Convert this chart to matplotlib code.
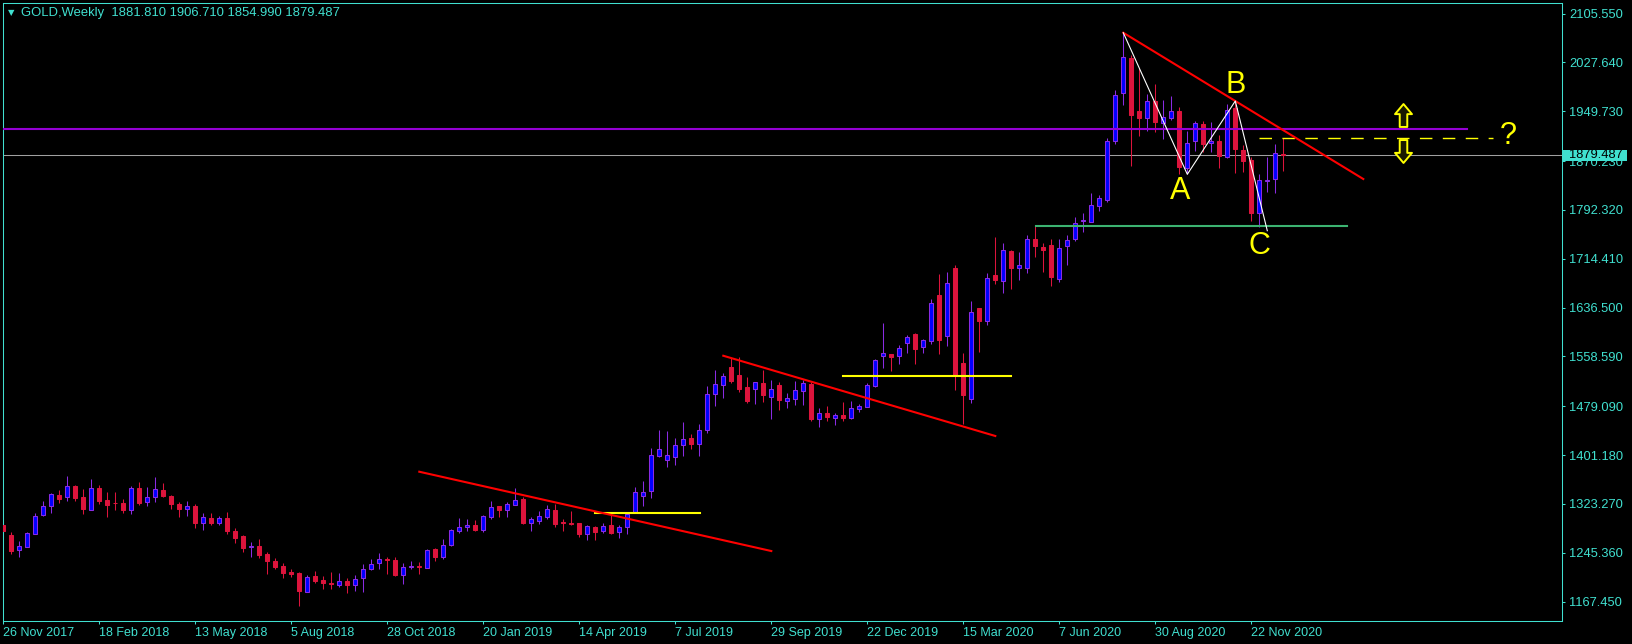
import matplotlib
matplotlib.use("Agg")
import matplotlib.pyplot as plt
from matplotlib.patches import Rectangle
from matplotlib.path import Path
from matplotlib.transforms import blended_transform_factory

plt.rcParams["font.family"] = ["Liberation Sans", "DejaVu Sans"]

TURQ = "#40E0D0"
BULL_FILL = "#0000FF"
BULL_EDGE = "#8A2BE2"
BEAR = "#DC143C"

# weekly GOLD candles, index 0 = week of 26 Nov 2017
opens = [
    1289.7, 1273.8, 1249.4, 1255.1, 1275.8, 1305.7, 1320.5, 1337.1, 1334.9, 1351.9,
    1334.4, 1314.1, 1348.3, 1329.1, 1325.3, 1324.8, 1314.1, 1348.3, 1326.9, 1334.9,
    1345.1, 1336.0, 1323.2, 1315.7, 1320.0, 1292.4, 1300.4, 1293.4, 1300.4, 1280.2,
    1272.2, 1254.2, 1255.8, 1243.5, 1231.8, 1224.3, 1214.8, 1213.2, 1183.4, 1208.4,
    1202.0, 1196.8, 1194.5, 1200.0, 1193.6, 1204.7, 1219.0, 1228.6, 1236.0, 1233.4,
    1210.5, 1222.2, 1224.3, 1221.6, 1251.4, 1239.2, 1257.8, 1280.6, 1286.0, 1289.2,
    1282.2, 1303.0, 1319.6, 1314.1, 1322.1, 1331.2, 1293.4, 1296.6, 1303.0, 1313.7,
    1294.5, 1292.9, 1292.9, 1275.8, 1286.0, 1280.6, 1289.7, 1278.1, 1286.0, 1310.0,
    1336.5, 1343.5, 1400.3, 1393.9, 1398.7, 1416.8, 1428.5, 1419.7, 1440.5, 1497.9,
    1513.8, 1541.7, 1529.0, 1509.8, 1507.1, 1516.2, 1494.4, 1513.0, 1488.0, 1491.2,
    1503.9, 1514.6, 1459.3, 1468.4, 1460.9, 1465.2, 1460.7, 1475.2, 1478.4, 1511.4,
    1559.8, 1562.5, 1558.8, 1579.5, 1594.4, 1573.2, 1582.7, 1656.6, 1591.6, 1699.6,
    1548.1, 1490.2, 1635.4, 1615.6, 1688.0, 1679.4, 1726.3, 1700.1, 1700.1, 1745.4,
    1733.1, 1736.0, 1682.5, 1735.2, 1746.7, 1774.6, 1773.5, 1799.0, 1808.6, 1901.7,
    1978.3, 2035.0, 1950.0, 1939.3, 1966.0, 1930.4, 1939.3, 1950.0, 1859.6, 1902.7,
    1929.3, 1899.5, 1902.2, 1877.1, 1955.3, 1887.8, 1871.9, 1787.0, 1838.4, 1841.1,
    1881.81,
]
highs = [
    1300.4, 1278.1, 1264.2, 1278.6, 1308.9, 1328.0, 1340.3, 1345.6, 1367.9, 1353.5,
    1347.1, 1362.6, 1353.5, 1341.9, 1342.4, 1330.7, 1351.9, 1358.3, 1350.3, 1366.3,
    1356.7, 1337.6, 1326.4, 1328.0, 1323.2, 1308.9, 1308.9, 1304.1, 1310.5, 1284.9,
    1273.8, 1262.6, 1267.4, 1246.7, 1237.1, 1229.6, 1219.5, 1214.3, 1210.0, 1216.3,
    1207.9, 1214.8, 1212.8, 1205.2, 1210.0, 1227.0, 1235.5, 1244.6, 1239.2, 1238.7,
    1229.6, 1232.3, 1230.7, 1251.9, 1253.5, 1267.4, 1283.3, 1300.9, 1299.3, 1297.7,
    1306.2, 1328.0, 1320.5, 1325.9, 1348.3, 1333.9, 1302.5, 1312.5, 1321.1, 1323.2,
    1299.3, 1312.5, 1293.5, 1289.2, 1287.7, 1292.9, 1307.3, 1289.7, 1309.3, 1350.3,
    1359.4, 1412.5, 1441.3, 1439.7, 1428.5, 1454.0, 1434.9, 1450.8, 1511.4, 1536.6,
    1532.2, 1556.1, 1557.2, 1525.8, 1518.3, 1537.0, 1521.0, 1518.3, 1500.3, 1519.4,
    1521.0, 1518.3, 1475.9, 1479.5, 1467.9, 1485.9, 1487.5, 1482.7, 1516.7, 1555.0,
    1612.4, 1563.0, 1576.3, 1592.3, 1595.5, 1586.9, 1650.2, 1690.1, 1693.2, 1704.4,
    1563.6, 1647.0, 1636.0, 1691.2, 1749.1, 1739.5, 1727.8, 1725.1, 1752.3, 1766.1,
    1739.5, 1745.9, 1745.9, 1751.8, 1781.4, 1787.8, 1819.2, 1816.1, 1907.5, 1983.5,
    2074.9, 2039.8, 2018.1, 1977.2, 1992.6, 1967.6, 1974.0, 1955.9, 1918.1, 1933.6,
    1933.6, 1932.5, 1911.3, 1961.2, 1964.9, 1895.8, 1876.2, 1849.1, 1876.2, 1897.4,
    1906.71,
]
lows = [
    1271.0, 1243.9, 1238.2, 1254.2, 1275.0, 1304.6, 1309.3, 1325.3, 1328.5, 1328.5,
    1307.7, 1313.5, 1322.7, 1303.0, 1313.7, 1309.3, 1307.7, 1322.1, 1320.5, 1326.9,
    1334.9, 1315.7, 1302.5, 1304.6, 1285.4, 1282.2, 1290.2, 1290.2, 1275.3, 1261.5,
    1247.1, 1239.2, 1237.1, 1212.0, 1219.0, 1205.7, 1206.3, 1161.0, 1183.0, 1196.8,
    1188.3, 1188.3, 1191.3, 1181.8, 1185.0, 1183.4, 1217.9, 1220.0, 1212.0, 1208.9,
    1196.1, 1219.0, 1211.4, 1221.0, 1232.8, 1236.0, 1256.7, 1277.4, 1280.6, 1280.5,
    1278.1, 1298.8, 1302.5, 1303.0, 1321.1, 1290.8, 1280.6, 1290.8, 1298.8, 1286.5,
    1280.6, 1290.2, 1270.6, 1266.3, 1266.3, 1277.4, 1275.8, 1269.5, 1275.8, 1309.3,
    1320.5, 1333.3, 1398.7, 1382.7, 1385.9, 1400.3, 1411.4, 1400.3, 1436.9, 1479.9,
    1492.6, 1516.7, 1501.9, 1484.8, 1482.7, 1485.9, 1459.3, 1473.2, 1476.3, 1481.1,
    1481.6, 1456.1, 1446.5, 1456.1, 1449.2, 1455.6, 1459.3, 1470.4, 1478.0, 1510.3,
    1540.6, 1535.8, 1546.5, 1563.6, 1546.5, 1563.6, 1578.9, 1563.0, 1575.7, 1505.1,
    1450.8, 1484.8, 1566.1, 1609.2, 1674.6, 1660.2, 1666.1, 1680.5, 1692.1, 1717.6,
    1693.7, 1671.4, 1677.3, 1704.4, 1743.2, 1757.5, 1773.0, 1791.0, 1804.9, 1897.9,
    1960.1, 1862.8, 1910.6, 1917.7, 1917.1, 1905.4, 1935.7, 1849.1, 1849.1, 1886.2,
    1885.1, 1884.2, 1859.6, 1874.6, 1850.7, 1853.2, 1774.6, 1764.5, 1821.3, 1818.8,
    1854.99,
]
closes = [
    1280.6, 1248.7, 1256.2, 1276.5, 1303.6, 1319.6, 1339.2, 1331.2, 1351.5, 1333.3,
    1315.7, 1348.3, 1328.5, 1322.1, 1324.3, 1314.1, 1348.3, 1325.3, 1334.4, 1346.7,
    1336.5, 1323.7, 1315.7, 1320.0, 1293.4, 1302.0, 1293.4, 1300.4, 1280.6, 1269.5,
    1253.5, 1255.8, 1242.4, 1232.8, 1222.7, 1213.6, 1212.0, 1185.0, 1206.8, 1200.9,
    1196.8, 1195.2, 1200.0, 1193.6, 1203.1, 1219.0, 1227.0, 1235.5, 1233.4, 1210.0,
    1222.2, 1224.3, 1222.2, 1249.8, 1239.2, 1257.3, 1281.3, 1286.0, 1289.2, 1281.7,
    1303.6, 1318.0, 1314.1, 1323.2, 1329.1, 1293.4, 1299.3, 1303.6, 1314.7, 1291.8,
    1292.4, 1291.3, 1275.8, 1287.7, 1279.1, 1287.7, 1277.4, 1286.0, 1307.3, 1341.9,
    1341.9, 1400.9, 1410.5, 1400.9, 1416.8, 1426.4, 1419.4, 1440.8, 1498.2, 1514.1,
    1526.9, 1519.4, 1506.6, 1487.5, 1517.3, 1497.6, 1506.2, 1489.6, 1492.3, 1505.1,
    1516.2, 1459.3, 1468.4, 1462.5, 1465.2, 1460.4, 1475.9, 1479.5, 1513.0, 1552.9,
    1563.6, 1558.2, 1572.0, 1589.6, 1570.9, 1584.8, 1643.8, 1585.3, 1675.7, 1529.0,
    1497.6, 1629.0, 1615.6, 1683.2, 1681.0, 1727.8, 1700.1, 1703.9, 1745.4, 1735.2,
    1728.3, 1685.3, 1731.0, 1743.8, 1770.9, 1776.2, 1799.6, 1810.8, 1901.7, 1975.1,
    2035.7, 1943.7, 1938.9, 1966.0, 1932.9, 1940.0, 1950.0, 1861.2, 1898.5, 1930.4,
    1897.9, 1901.7, 1878.7, 1951.6, 1889.4, 1870.8, 1786.9, 1839.5, 1840.0, 1882.6,
    1879.487,
]

x_tick_idx = [0, 12, 24, 36, 48, 60, 72, 84, 96, 108, 120, 132, 144, 156]
x_tick_labels = ["26 Nov 2017", "18 Feb 2018", "13 May 2018", "5 Aug 2018",
                 "28 Oct 2018", "20 Jan 2019", "14 Apr 2019", "7 Jul 2019",
                 "29 Sep 2019", "22 Dec 2019", "15 Mar 2020", "7 Jun 2020",
                 "30 Aug 2020", "22 Nov 2020"]
y_tick_values = [2105.55, 2027.64, 1949.73, 1870.23, 1792.32, 1714.41, 1636.50,
                 1558.59, 1479.09, 1401.18, 1323.27, 1245.36, 1167.45]
y_tick_labels = ["%.3f" % v for v in y_tick_values]

# objects drawn by hand on the chart: (candle index, price)
trend_x = [[52.0, 96.0], [90.0, 124.0], [140.0, 170.0]]
trend_y = [[1374.7, 1248.2], [1559.7, 1431.7], [2074.9, 1841.6]]
zigzag_x = [140, 148, 154, 158]
zigzag_y = [2074.9, 1849.1, 1966.0, 1759.1]
wave_labels = ["A", "B", "C"]
wave_x = [147.1, 154.0, 157.0]
wave_y = [1822.0, 1992.0, 1735.0]
purple_level, purple_end = 1921.8, 183.0
green_level, green_span = 1766.9, (129.1, 168.0)
yellow_levels = [1309.3, 1527.8]
yellow_spans = [(74.0, 87.1), (105.0, 126.0)]
dash_level, dash_span = 1906.71, (157.0, 186.2)
arrow_x, arrow_up_y, arrow_dn_y = 175.0, 1943.2, 1885.7
question_x, question_y = 188.1, 1910.5

title = "GOLD,Weekly  1881.810 1906.710 1854.990 1879.487"

# hollow block-arrow marker shape (up); the down one is its mirror
_arrow = [(0, 1), (0.74, 0.12), (0.33, 0.12), (0.33, -1), (-0.33, -1),
          (-0.33, 0.12), (-0.74, 0.12), (0, 1)]
UP_ARROW = Path(_arrow, closed=True)
DOWN_ARROW = Path([(x, -y) for x, y in _arrow], closed=True)

W, H = 1633, 644
fig = plt.figure(figsize=(W / 100, H / 100), dpi=100, facecolor="black")
ax = fig.add_axes([2.7 / W, (H - 620.5) / H, 1559.8 / W, 617.6 / H],
                  facecolor="black")
ax.set_xlim(-0.075, 194.9)
ax.set_ylim(1137.4, 2122.5)

# candles: wicks first, bodies on top
xs = list(range(len(opens)))
up = [c >= o for o, c in zip(opens, closes)]
ax.vlines(xs, lows, highs, colors=[BULL_EDGE if u else BEAR for u in up],
          lw=0.75, zorder=2)
ax.bar(xs, [c - o for o, c in zip(opens, closes)], bottom=opens, width=0.48,
       color=[BULL_FILL if u else BEAR for u in up],
       edgecolor=[BULL_EDGE if u else BEAR for u in up], lw=0.75, zorder=3)

# current bid line
ax.axhline(closes[-1], color="#a0a0a0", lw=0.75, zorder=1)

# levels
ax.plot([-0.075, purple_end], [purple_level] * 2, color="#9400D3", lw=1.5, zorder=4)
ax.plot(green_span, [green_level] * 2, color="#3CB371", lw=1.5, zorder=4)
for lvl, span in zip(yellow_levels, yellow_spans):
    ax.plot(span, [lvl, lvl], color="#FFFF00", lw=1.5, zorder=4)
ax.plot(dash_span, [dash_level] * 2, color="#FFFF00", lw=1.0,
        dashes=(9, 7.5), zorder=4)

for tx, ty in zip(trend_x, trend_y):
    ax.plot(tx, ty, color="#FF0000", lw=1.5, zorder=5)
ax.plot(zigzag_x, zigzag_y, color="white", lw=0.8, zorder=5)

for lab, lx, ly in zip(wave_labels, wave_x, wave_y):
    ax.text(lx, ly, lab, color="#FFFF00", fontsize=22, ha="center",
            va="center", zorder=6)
ax.text(question_x, question_y, "?", color="#FFFF00", fontsize=22,
        ha="center", va="center", zorder=6)
ax.plot([arrow_x], [arrow_up_y], marker=UP_ARROW, markersize=16.5,
        markerfacecolor="#1a1a00", markeredgecolor="#FFFF00",
        markeredgewidth=1.4, zorder=6)
ax.plot([arrow_x], [arrow_dn_y], marker=DOWN_ARROW, markersize=16.5,
        markerfacecolor="#1a1a00", markeredgecolor="#FFFF00",
        markeredgewidth=1.4, zorder=6)

# axes styling
for sp in ax.spines.values():
    sp.set_color(TURQ)
    sp.set_linewidth(0.75)
ax.set_xticks(x_tick_idx)
ax.set_xticklabels(x_tick_labels)
for lbl in ax.get_xticklabels():
    lbl.set_horizontalalignment("left")
ax.yaxis.tick_right()
ax.set_yticks(y_tick_values)
ax.set_yticklabels(y_tick_labels)
ax.tick_params(axis="x", colors=TURQ, length=2.5, width=0.75, pad=2, labelsize=9)
ax.tick_params(axis="y", colors=TURQ, length=2, width=0.75, pad=3, labelsize=9.3)

# price tag on the right scale
trans = blended_transform_factory(ax.transAxes, ax.transData)
ax.add_patch(Rectangle((1.0005, closes[-1] - 9.6), 0.0406, 18.2,
                       transform=trans, clip_on=False, facecolor=TURQ,
                       edgecolor="none", zorder=10))
ax.text(1.0041, closes[-1], "%.3f" % closes[-1], transform=trans,
        color="black", fontsize=9.3, va="center", ha="left", zorder=11)

fig.text(11 / W, 1 - 12.5 / H, "\u25bc", color=TURQ, fontsize=6,
         family="DejaVu Sans", ha="center", va="center")
fig.text(21 / W, 1 - 12.7 / H, title, color=TURQ, fontsize=9.4,
         ha="left", va="center")

fig.savefig("out.png", dpi=100, facecolor="black")
